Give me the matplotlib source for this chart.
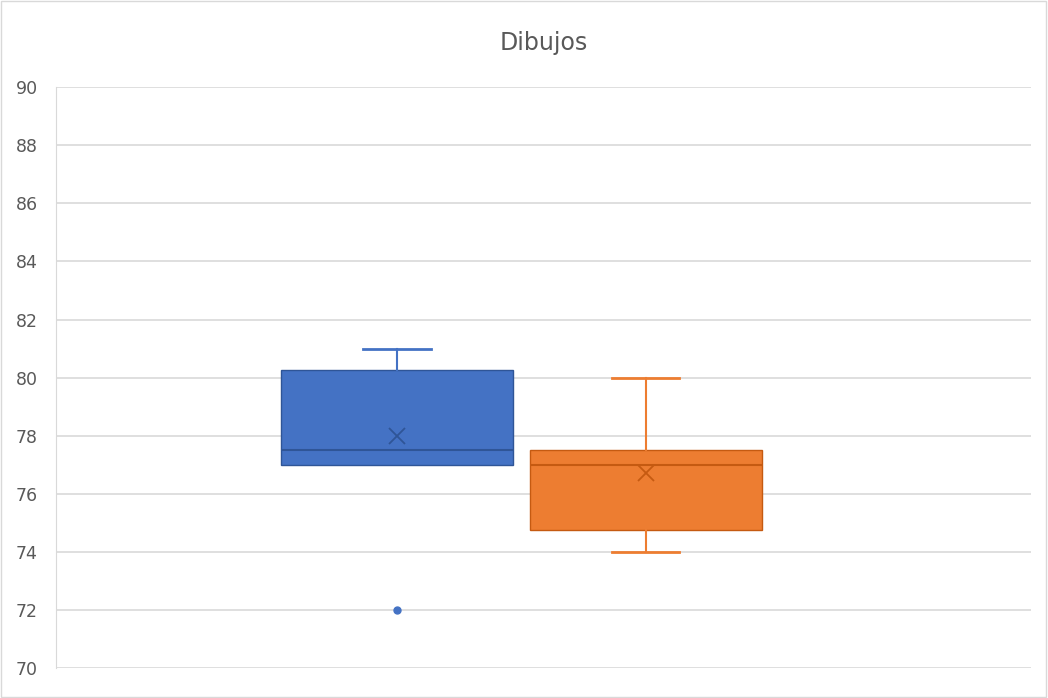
import matplotlib.pyplot as plt
from matplotlib.patches import Rectangle

# box statistics
series = ["Serie 1", "Serie 2"]
q1 = [77.0, 74.75]
medians = [77.5, 77.0]
q3 = [80.25, 77.5]
whis_lo = [77.0, 74.0]
whis_hi = [81.0, 80.0]
means = [78.0, 76.7]
outliers = [[72.0], []]

fills = ["#4472C4", "#ED7D31"]
edges = ["#2F5597", "#C55A11"]
positions = [0.35, 0.605]

fig = plt.figure(figsize=(10.48, 6.98), dpi=100)
fig.patches.append(Rectangle((0.001, 0.002), 0.997, 0.996, transform=fig.transFigure,
                             fill=False, edgecolor="#D9D9D9", linewidth=1))
ax = fig.add_axes([0.0534, 0.043, 0.93, 0.832])

stats = []
for i in range(len(series)):
    stats.append(dict(label=series[i], q1=q1[i], med=medians[i], q3=q3[i],
                      whislo=whis_lo[i], whishi=whis_hi[i], mean=means[i],
                      fliers=outliers[i]))

for i, st in enumerate(stats):
    parts = ax.bxp([st], positions=[positions[i]], widths=0.238, patch_artist=True,
                   showmeans=True, manage_ticks=False,
                   boxprops=dict(facecolor=fills[i], edgecolor=edges[i], linewidth=1.0),
                   medianprops=dict(color=edges[i], linewidth=1.5),
                   whiskerprops=dict(color=fills[i], linewidth=1.5),
                   capprops=dict(color=fills[i], linewidth=2),
                   capwidths=0.069,
                   meanprops=dict(marker="x", markeredgecolor=edges[i], markersize=11,
                                  markeredgewidth=1.3),
                   flierprops=dict(marker="o", markerfacecolor=fills[i],
                                   markeredgecolor=fills[i], markersize=5))
    # no lower whisker when it coincides with the box
    if st["whislo"] == st["q1"]:
        parts["caps"][0].set_visible(False)
    if st["whishi"] == st["q3"]:
        parts["caps"][1].set_visible(False)

ax.set_xlim(0, 1)
ax.set_ylim(70, 90)
ax.set_yticks(range(70, 91, 2))
ax.set_xticks([])
ax.grid(axis="y", color="#D9D9D9", linewidth=1.2)
ax.set_axisbelow(True)
for s in ["top", "right", "bottom"]:
    ax.spines[s].set_visible(False)
ax.spines["left"].set_color("#D9D9D9")
ax.tick_params(axis="y", length=0, labelsize=12.5, labelcolor="#595959", pad=13)
ax.set_title("Dibujos", fontsize=17, color="#595959", pad=27)

fig.savefig("out.png", dpi=100)
